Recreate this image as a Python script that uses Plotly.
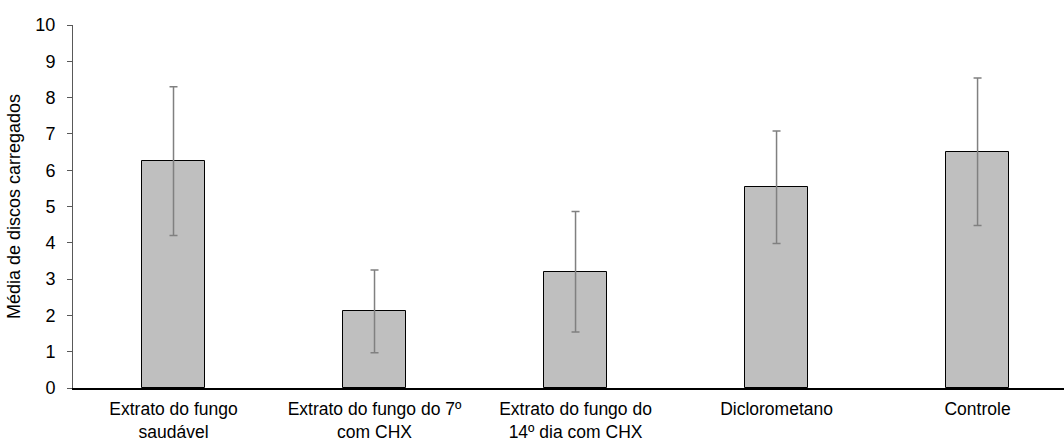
import plotly.graph_objects as go

categories = [
    "Extrato do fungo<br>saudável",
    "Extrato do fungo do 7º<br>com CHX",
    "Extrato do fungo do<br>14º dia com CHX",
    "Diclorometano",
    "Controle",
]
means = [6.25, 2.11, 3.20, 5.53, 6.51]
errors = [2.05, 1.14, 1.66, 1.55, 2.03]
y_ticks = [0, 1, 2, 3, 4, 5, 6, 7, 8, 9, 10]

fig = go.Figure(
    go.Bar(
        x=categories,
        y=means,
        width=0.313,
        marker=dict(color="#bfbfbf", line=dict(color="#000000", width=1)),
        error_y=dict(type="data", array=errors, visible=True,
                     color="#808080", thickness=1.5, width=4),
    )
)

font = dict(family="Liberation Sans, Arial, sans-serif", size=18, color="#000000")
xfont = dict(family="Liberation Sans, Arial, sans-serif", size=17.5, color="#000000")

fig.update_layout(
    width=1064,
    height=441,
    margin=dict(l=73, r=0, t=25, b=53),
    plot_bgcolor="white",
    paper_bgcolor="white",
    font=font,
    showlegend=False,
    bargap=0,
)
fig.update_xaxes(
    range=[-0.5, 4.43],
    automargin=False,
    showline=True,
    linecolor="#000000",
    linewidth=1.5,
    ticks="",
    showgrid=False,
    tickfont=xfont,
    ticklabelstandoff=4,
)
fig.update_yaxes(
    range=[0, 10],
    automargin=False,
    tickvals=y_ticks,
    showline=True,
    linecolor="#595959",
    linewidth=1,
    ticks="outside",
    ticklen=5,
    tickcolor="#595959",
    showgrid=False,
    zeroline=False,
    tickfont=font,
    ticklabelstandoff=8,
    title=dict(text="Média de discos carregados", font=font, standoff=10),
)

fig.write_html(
    "out.html",
    config={"displayModeBar": False},
    post_script="document.body.style.margin='0';",
)
